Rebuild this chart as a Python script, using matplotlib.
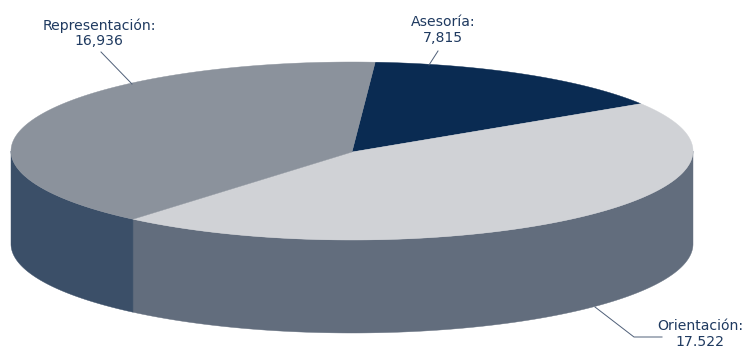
import numpy as np
import matplotlib
matplotlib.use("Agg")
import matplotlib.pyplot as plt

categories = ["Asesoría", "Orientación", "Representación"]
values = [7815, 17522, 16936]
value_labels = ["7,815", "17.522", "16,936"]

top_colors = ["#0a2b52", "#d0d2d6", "#8b929c"]
side_colors = ["#0a2440", "#626d7d", "#3b4f68"]
text_color = "#1f3a60"
line_color = "#4f5f78"

# pie geometry in image pixels
cx, cy = 352, 151
rx, ry = 341, 89
depth = 93


def view_angle(t):
    # the picture's 3D view twists the slices a bit, t in degrees clockwise from top
    r = np.radians(t)
    return t - 7.15 + 8.27 * np.sin(2 * r) + 11.05 * np.cos(2 * r)


def rim(a, b):
    th = np.radians(np.linspace(a, b, 200))
    return cx + rx * np.sin(th), cy - ry * np.cos(th)


fig = plt.figure(figsize=(7.44, 3.49), dpi=100)
ax = fig.add_axes([0, 0, 1, 1])
ax.set_xlim(0, 744)
ax.set_ylim(349, 0)
ax.axis("off")

edges = np.concatenate([[0], np.cumsum(values)]) / sum(values) * 360
angles = view_angle(edges)

for i in range(len(values)):
    a, b = angles[i], angles[i + 1]
    # side wall, only the part facing the viewer
    lo, hi = max(a, 90), min(b, 270)
    if hi > lo:
        x, y = rim(lo, hi)
        ax.fill(np.r_[x, x[::-1]], np.r_[y, y[::-1] + depth],
                color=side_colors[i], lw=0.3, zorder=1)
    x, y = rim(a, b)
    ax.fill(np.r_[cx, x], np.r_[cy + 1, y], color=top_colors[i], lw=0.3, zorder=2)

# leader lines
ax.plot([101, 132], [52, 84], color=line_color, lw=0.7, zorder=3)
ax.plot([438, 429], [51, 65], color=line_color, lw=0.7, zorder=3)
ax.plot([595, 634, 662], [307, 337, 337], color=line_color, lw=0.7, zorder=3)

# labels
label_pos = [(443, 30), (700, 334), (99, 33)]
for name, val, (lx, ly) in zip(categories, value_labels, label_pos):
    ax.text(lx, ly, name + ":\n" + val, ha="center", va="center", fontsize=10.1,
            color=text_color, family="DejaVu Sans", linespacing=1.1)

fig.savefig("out.png", dpi=100)
